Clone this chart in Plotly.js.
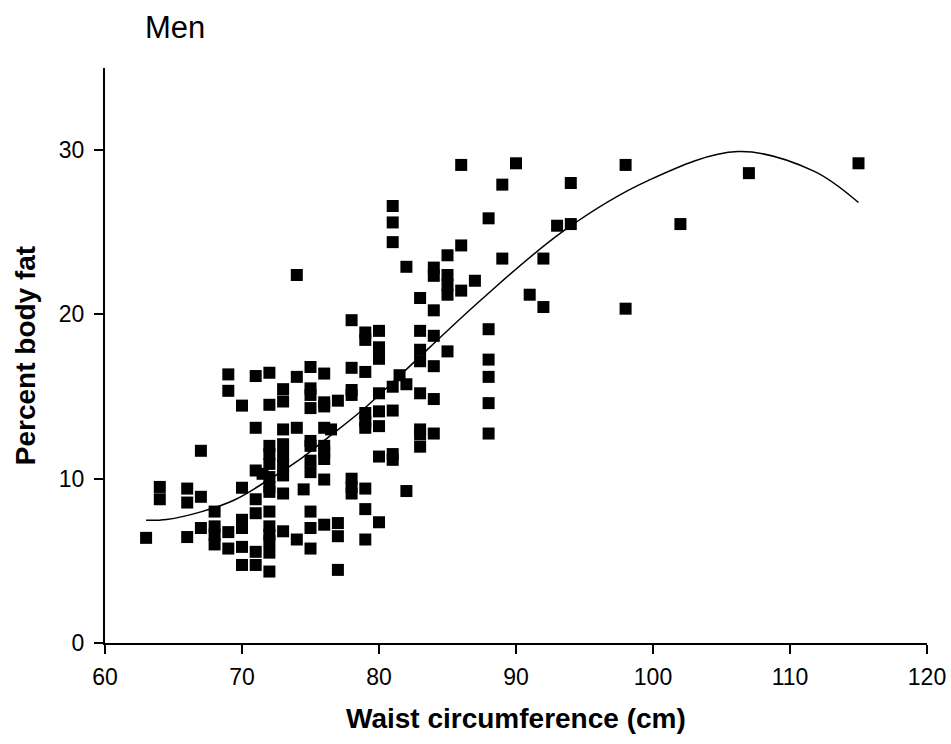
<!DOCTYPE html>
<html>
<head>
<meta charset="utf-8">
<script src="https://cdn.plot.ly/plotly-3.0.1.min.js"></script>
<style>html,body{margin:0;padding:0;background:#fff;}#chart{width:951px;height:744px;}</style>
</head>
<body>
<div id="chart"></div>
<script>
// Scatter data: waist circumference (cm) and percent body fat, men
const waist = [
  63,
  64, 64,
  66, 66, 66,
  67, 67, 67,
  68, 68, 68, 68,
  69, 69, 69, 69,
  70, 70, 70, 70, 70, 70,
  71, 71, 71, 71, 71, 71, 71,
  71.5,
  72, 72, 72, 72, 72, 72, 72, 72, 72, 72, 72, 72, 72, 72,
  73, 73, 73, 73, 73, 73, 73, 73, 73,
  74, 74, 74, 74,
  74.5,
  75, 75, 75, 75, 75, 75, 75, 75, 75, 75, 75,
  76, 76, 76, 76, 76, 76, 76, 76, 76,
  76.5,
  77, 77, 77, 77,
  78, 78, 78, 78, 78, 78, 78,
  79, 79, 79, 79, 79, 79, 79, 79, 79,
  80, 80, 80, 80, 80, 80, 80, 80,
  81, 81, 81, 81, 81, 81, 81,
  81.5,
  82, 82, 82,
  83, 83, 83, 83, 83, 83, 83, 83,
  84, 84, 84, 84, 84, 84, 84,
  85, 85, 85, 85, 85,
  86, 86, 86,
  87,
  88, 88, 88, 88, 88, 88,
  89, 89,
  90,
  91,
  92, 92,
  93,
  94, 94,
  98, 98,
  102,
  107,
  115
];
const bodyFat = [
  6.4,
  9.5, 8.75,
  9.4, 8.55, 6.45,
  11.7, 8.9, 7.0,
  8.0, 7.1, 6.6, 6.0,
  16.35, 15.35, 6.75, 5.75,
  14.45, 9.45, 7.5, 7.0, 5.85, 4.75,
  16.25, 13.1, 10.5, 8.75, 7.9, 5.55, 4.75,
  10.3,
  16.45, 14.5, 12.0, 11.5, 10.9, 10.1, 9.5, 9.2, 8.0, 7.1, 6.6, 6.2, 5.5, 4.35,
  15.45, 14.7, 13.0, 12.1, 11.4, 10.8, 10.2, 9.1, 6.8,
  22.4, 16.2, 13.1, 6.3,
  9.35,
  16.8, 15.5, 15.1, 14.3, 12.3, 12.0, 11.1, 10.4, 8.0, 7.0, 5.75,
  16.4, 14.65, 14.4, 13.1, 12.0, 11.6, 11.2, 9.95, 7.2,
  13.0,
  14.75, 7.3, 6.5, 4.45,
  19.65, 16.75, 15.4, 15.1, 10.0, 9.5, 9.1,
  18.9, 18.45, 16.5, 14.0, 13.5, 13.1, 9.4, 8.15, 6.3,
  19.0, 18.0, 17.3, 15.2, 14.1, 13.2, 11.35, 7.35,
  26.6, 25.6, 24.4, 15.6, 14.15, 11.5, 11.15,
  16.3,
  22.9, 15.75, 9.25,
  21.0, 19.0, 17.85, 17.15, 15.2, 13.0, 12.7, 11.95,
  22.85, 22.35, 20.25, 18.7, 16.85, 14.85, 12.75,
  23.6, 22.4, 21.8, 21.2, 17.75,
  29.1, 24.2, 21.45,
  22.05,
  25.85, 19.1, 17.25, 16.2, 14.6, 12.75,
  27.9, 23.4,
  29.2,
  21.2,
  23.4, 20.45,
  25.4,
  28.0, 25.5,
  29.1, 20.35,
  25.5,
  28.6,
  29.2
];
// Trend curve
const curveX = [63, 64.5, 67, 69.4, 71.7, 74.3, 76, 78.9, 81.8, 87.4, 93.5, 99.6, 106.2, 111.7, 115];
const curveY = [7.47, 7.52, 7.98, 8.69, 9.8, 11.22, 12.33, 14.26, 16.5, 20.85, 25.1, 28.13, 29.91, 28.74, 26.81];

const xTicks = [60, 70, 80, 90, 100, 110, 120];
const yTicks = [0, 10, 20, 30];

const FONT = 'Liberation Sans, Arial, Helvetica, sans-serif';

const traces = [
  {
    x: waist, y: bodyFat, type: 'scatter', mode: 'markers',
    marker: {symbol: 'square', size: 12, color: '#000', line: {width: 0}},
    hoverinfo: 'x+y', showlegend: false
  },
  {
    x: curveX, y: curveY, type: 'scatter', mode: 'lines',
    line: {color: '#000', width: 1.5, shape: 'spline', smoothing: 1},
    hoverinfo: 'skip', showlegend: false
  }
];

const layout = {
  width: 951, height: 744,
  margin: {l: 105, r: 24, t: 68, b: 101},
  paper_bgcolor: '#fff', plot_bgcolor: '#fff',
  font: {family: FONT, color: '#000', size: 23},
  title: {
    text: 'Men', font: {family: FONT, size: 31, color: '#000'},
    xref: 'container', yref: 'container',
    x: 145/951, xanchor: 'left', y: 1 - 27/744, yanchor: 'middle'
  },
  xaxis: {
    range: [60, 120], tickvals: xTicks, ticktext: xTicks.map(String),
    showline: true, linecolor: '#000', linewidth: 2,
    ticks: 'outside', ticklen: 9, tickwidth: 2, tickcolor: '#000',
    ticklabelstandoff: 3,
    showgrid: false, zeroline: false,
    tickfont: {family: FONT, size: 23, color: '#000'}
  },
  yaxis: {
    range: [0, 35], tickvals: yTicks, ticktext: yTicks.map(String),
    showline: true, linecolor: '#000', linewidth: 2,
    ticks: 'outside', ticklen: 9, tickwidth: 2, tickcolor: '#000',
    ticklabelstandoff: 5,
    showgrid: false, zeroline: false,
    tickfont: {family: FONT, size: 23, color: '#000'},
    title: {text: '<b>Percent body fat</b>', font: {family: FONT, size: 28, color: '#000'}, standoff: 15}
  },
  annotations: [{
    text: '<b>Waist circumference (cm)</b>',
    xref: 'paper', yref: 'paper', x: 0.5, y: 0,
    xanchor: 'center', yanchor: 'middle', yshift: -75,
    showarrow: false,
    font: {family: FONT, size: 28, color: '#000'}
  }]
};

Plotly.newPlot('chart', traces, layout, {displayModeBar: false, staticPlot: true});
</script>
</body>
</html>
